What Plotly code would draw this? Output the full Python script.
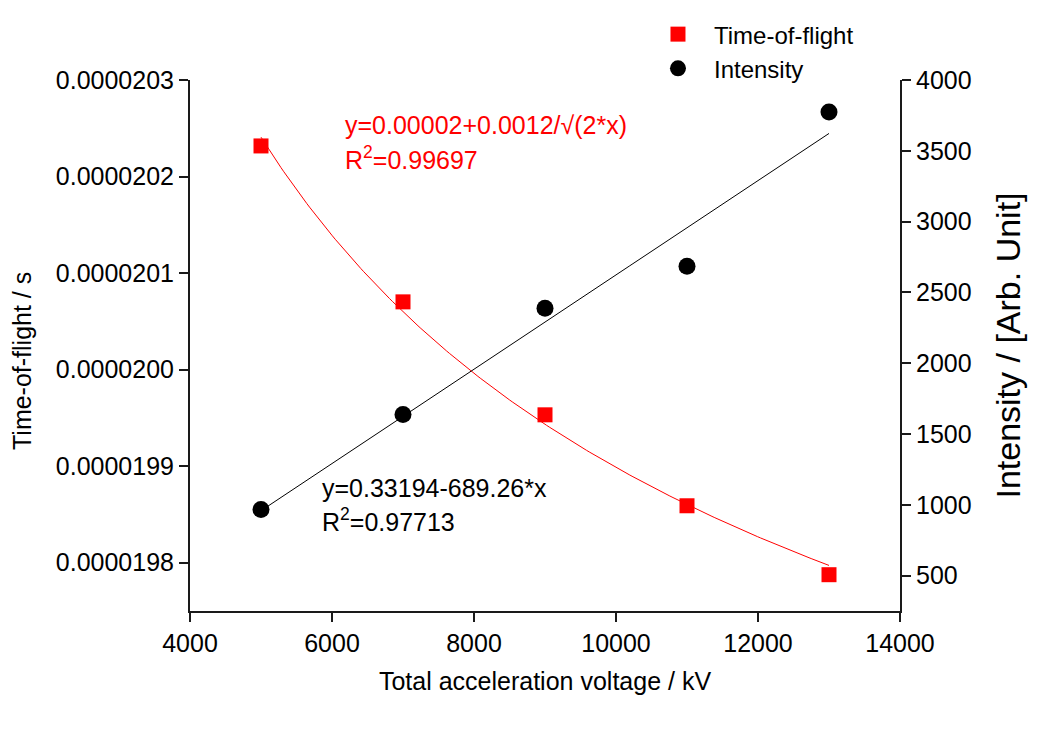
import numpy as np
import plotly.graph_objects as go

voltage = [5000, 7000, 9000, 11000, 13000]
tof = [2.02317e-5, 2.00702e-5, 1.99532e-5, 1.98590e-5, 1.97876e-5]
intensity = [967, 1638, 2388, 2685, 3774]

x_ticks = [4000, 6000, 8000, 10000, 12000, 14000]
tof_ticks = [1.98e-5, 1.99e-5, 2.00e-5, 2.01e-5, 2.02e-5, 2.03e-5]
tof_tick_labels = ["0.0000198", "0.0000199", "0.0000200", "0.0000201", "0.0000202", "0.0000203"]
int_ticks = [500, 1000, 1500, 2000, 2500, 3000, 3500, 4000]

# fitted curves from the data
xv = np.array(voltage, dtype=float)
A = np.vstack([np.ones_like(xv), 1 / np.sqrt(2 * xv)]).T
coef_tof, *_ = np.linalg.lstsq(A, np.array(tof), rcond=None)
xf = np.linspace(min(voltage), max(voltage), 200)
tof_fit = coef_tof[0] + coef_tof[1] / np.sqrt(2 * xf)
lin = np.polyfit(xv, np.array(intensity, dtype=float), 1)
int_fit = np.polyval(lin, xf)

FONT = "Liberation Sans, Arial, sans-serif"

fig = go.Figure()
fig.add_trace(go.Scatter(x=xf, y=tof_fit, mode="lines", line=dict(color="#ff0000", width=1),
                         showlegend=False, hoverinfo="skip"))
fig.add_trace(go.Scatter(x=xf, y=int_fit, mode="lines", line=dict(color="#000000", width=1),
                         showlegend=False, hoverinfo="skip", yaxis="y2"))
fig.add_trace(go.Scatter(x=voltage, y=tof, mode="markers", name="Time-of-flight",
                         marker=dict(symbol="square", size=15, color="#ff0000")))
fig.add_trace(go.Scatter(x=voltage, y=intensity, mode="markers", name="Intensity", yaxis="y2",
                         marker=dict(symbol="circle", size=17, color="#000000")))

axis_common = dict(showline=True, linecolor="#1a1a1a", linewidth=2, ticks="outside",
                   ticklen=9, tickwidth=2, tickcolor="#1a1a1a", showgrid=False, zeroline=False,
                   tickfont=dict(size=25, color="#000000", family=FONT))

fig.update_layout(
    width=1038, height=729,
    paper_bgcolor="white", plot_bgcolor="white",
    margin=dict(l=190, r=138, t=80, b=118, autoexpand=False),
    font=dict(family=FONT, color="#000000"),
    xaxis=dict(range=[4000, 14000], tickvals=x_ticks, tickformat="d", **axis_common,
               title=dict(text="Total acceleration voltage / kV", font=dict(size=25), standoff=16)),
    yaxis=dict(range=[1.975e-5, 2.03e-5 + 1e-12], tickvals=tof_ticks, ticktext=tof_tick_labels,
               **axis_common),
    yaxis2=dict(range=[250, 4000.01], tickvals=int_ticks, overlaying="y", side="right", **axis_common,
                title=dict(text="Intensity / [Arb. Unit]", font=dict(size=34), standoff=26)),
    legend=dict(x=0.6366, y=1.128, xanchor="left", yanchor="top", bgcolor="rgba(0,0,0,0)",
                font=dict(size=24, color="#000000"), tracegroupgap=0, itemwidth=62),
    showlegend=True,
)

# left axis title
fig.add_annotation(text="Time-of-flight / s", x=-0.2366, y=0.4708, xref="paper", yref="paper",
                   xanchor="center", yanchor="middle", textangle=-90, showarrow=False,
                   font=dict(size=25, color="#000000", family=FONT))

ann = [
    dict(text="y=0.00002+0.0012/√(2*x)", x=0.2155, y=0.915, color="#ff0000"),
    dict(text="R<sup>2</sup>=0.99697", x=0.2155, y=0.853, color="#ff0000"),
    dict(text="y=0.33194-689.26*x", x=0.183, y=0.2316, color="#000000"),
    dict(text="R<sup>2</sup>=0.97713", x=0.183, y=0.1714, color="#000000"),
]
for a in ann:
    fig.add_annotation(text=a["text"], x=a["x"], y=a["y"], xref="paper", yref="paper",
                       xanchor="left", yanchor="middle", showarrow=False,
                       font=dict(size=25, color=a["color"], family=FONT))

fig.write_html("out.html", config={"displayModeBar": False},
               post_script="document.body.style.margin='0';")
